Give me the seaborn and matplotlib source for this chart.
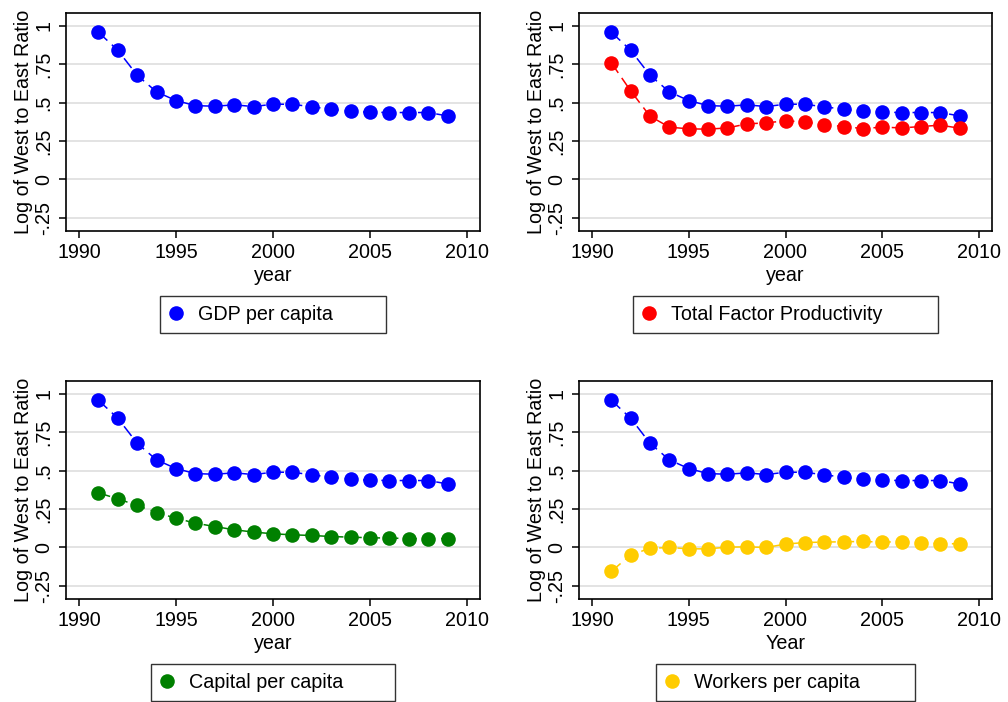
import matplotlib
matplotlib.use("Agg")
import matplotlib.pyplot as plt
from matplotlib.lines import Line2D
import seaborn as sns
import pandas as pd

years = list(range(1991, 2010))

gdp_per_capita = [0.957, 0.840, 0.677, 0.569, 0.513, 0.480, 0.476, 0.485, 0.474, 0.489,
                  0.489, 0.472, 0.457, 0.442, 0.437, 0.435, 0.435, 0.435, 0.413]
tfp = [0.758, 0.576, 0.411, 0.340, 0.329, 0.327, 0.335, 0.361, 0.368, 0.381,
       0.374, 0.357, 0.344, 0.331, 0.340, 0.335, 0.344, 0.353, 0.333]
capital_per_capita = [0.355, 0.316, 0.273, 0.227, 0.190, 0.158, 0.136, 0.115, 0.100, 0.089,
                      0.082, 0.078, 0.071, 0.067, 0.063, 0.061, 0.058, 0.056, 0.058]
workers_per_capita = [-0.156, -0.048, -0.006, 0.000, -0.009, -0.009, 0.002, 0.004, 0.000, 0.022,
                      0.032, 0.035, 0.037, 0.039, 0.035, 0.037, 0.032, 0.024, 0.024]

y_ticks = [-0.25, 0, 0.25, 0.5, 0.75, 1]
y_tick_labels = ["-.25", "0", ".25", ".5", ".75", "1"]
x_ticks = [1990, 1995, 2000, 2005, 2010]

panel_series = ["GDP per capita", "Total Factor Productivity",
                "Capital per capita", "Workers per capita"]
panel_values = [gdp_per_capita, tfp, capital_per_capita, workers_per_capita]
panel_colors = ["#0000ff", "#ff0000", "#008000", "#ffcc00"]
x_titles = ["year", "year", "year", "Year"]

FS = 14.2

sns.set_theme(style="white")
plt.rcParams["font.family"] = ["Liberation Sans", "DejaVu Sans"]
plt.rcParams["font.size"] = FS
for key in ("text.color", "axes.labelcolor", "xtick.color", "ytick.color"):
    plt.rcParams[key] = "black"

W, H = 1008, 702
fig = plt.figure(figsize=(W / 100, H / 100), dpi=100)

# axes boxes in pixel coordinates: (left, top, right, bottom)
boxes = [(66, 13, 480, 231), (579, 13, 992, 231),
         (66, 381, 480, 599), (579, 381, 992, 599)]
# legend boxes in pixel coordinates: (left, top, right, bottom)
leg_boxes = [(160, 296, 386, 333), (633, 296, 938, 333),
             (151, 664, 395, 701), (656, 664, 915, 701)]


def add_series(ax, values, color):
    df = pd.DataFrame({"year": years, "value": values})
    sns.lineplot(data=df, x="year", y="value", ax=ax, color=color,
                 linewidth=1.1, dashes=False, marker="o", markersize=10.5,
                 markeredgewidth=0, linestyle=(0, (8, 4)), zorder=3)


for i, (l, t, r, b) in enumerate(boxes):
    ax = fig.add_axes([l / W, 1 - b / H, (r - l) / W, (b - t) / H])
    # the blue GDP series is shown in every panel for comparison
    add_series(ax, gdp_per_capita, panel_colors[0])
    if i > 0:
        add_series(ax, panel_values[i], panel_colors[i])

    ax.set_xlim(1989.33, 2010.67)
    ax.set_ylim(-0.335, 1.082)
    ax.set_xticks(x_ticks)
    ax.set_xticklabels([str(v) for v in x_ticks], fontsize=FS)
    ax.set_yticks(y_ticks)
    ax.set_yticklabels(y_tick_labels, fontsize=FS, rotation=90, va="center")
    ax.yaxis.grid(True, color="#e3e3e3", linewidth=1.4, zorder=0)
    ax.xaxis.grid(False)
    ax.set_axisbelow(True)
    ax.tick_params(axis="both", which="major", direction="out", length=5,
                   width=1.1, color="black", bottom=True, left=True)
    ax.tick_params(axis="x", pad=4)
    ax.tick_params(axis="y", pad=4)
    for sp in ax.spines.values():
        sp.set_color("black")
        sp.set_linewidth(1.2)
    ax.set_xlabel(x_titles[i], fontsize=FS, labelpad=2.5)
    ax.set_ylabel("Log of West to East Ratio", fontsize=FS, labelpad=1)

    ll, lt, lr, lb = leg_boxes[i]
    handle = Line2D([], [], marker="o", linestyle="none", markersize=10.5,
                    markeredgewidth=0, color=panel_colors[i])
    leg = fig.legend([handle], [panel_series[i]], loc="lower left",
                     bbox_to_anchor=(ll / W, 1 - lb / H, (lr - ll) / W, (lb - lt) / H),
                     bbox_transform=fig.transFigure, mode="expand",
                     borderaxespad=0, borderpad=0.46, handlelength=0.75,
                     handletextpad=0.72, fancybox=False, frameon=True,
                     fontsize=FS)
    frame = leg.get_frame()
    frame.set_edgecolor("black")
    frame.set_linewidth(1.0)
    frame.set_facecolor("white")

fig.savefig("out.png", dpi=100, facecolor="white")
